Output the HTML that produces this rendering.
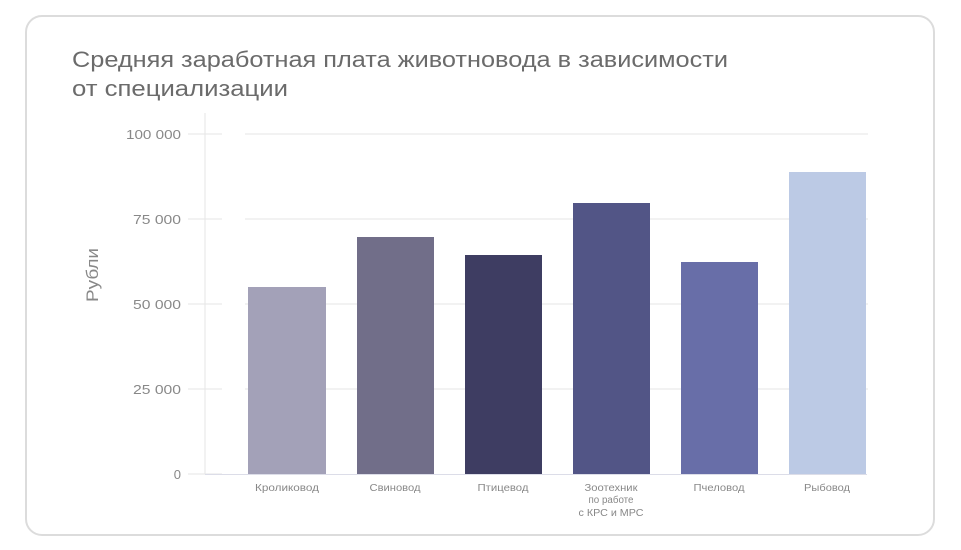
<!DOCTYPE html>
<html><head><meta charset="utf-8"><style>
body{margin:0;background:#fff;}
svg{display:block;font-family:"Liberation Sans","DejaVu Sans",sans-serif;}
</style></head><body>
<svg width="961" height="550" viewBox="0 0 961 550">
<rect x="26" y="16" width="908" height="519" rx="16" fill="#fff" stroke="#dcdcdc" stroke-width="2"/>
<text x="72" y="67" font-size="22" fill="#6b6b6b" textLength="656" lengthAdjust="spacingAndGlyphs">Средняя заработная плата животновода в зависимости</text>
<text x="72" y="96" font-size="22" fill="#6b6b6b" textLength="216" lengthAdjust="spacingAndGlyphs">от специализации</text>
<text transform="translate(98,275) rotate(-90)" text-anchor="middle" font-size="17" fill="#888" textLength="54" lengthAdjust="spacingAndGlyphs">Рубли</text>
<g stroke="#e6e6e6" stroke-width="1">
<line x1="205" y1="113" x2="205" y2="474"/>
<line x1="188" y1="134" x2="222" y2="134"/><line x1="245" y1="134" x2="868" y2="134"/>
<line x1="188" y1="219" x2="222" y2="219"/><line x1="245" y1="219" x2="868" y2="219"/>
<line x1="188" y1="304" x2="222" y2="304"/><line x1="245" y1="304" x2="868" y2="304"/>
<line x1="188" y1="389" x2="222" y2="389"/><line x1="245" y1="389" x2="868" y2="389"/>
<line x1="188" y1="474" x2="222" y2="474"/>
</g>
<g font-size="13" fill="#888" text-anchor="end">
<text x="181" y="139" textLength="55" lengthAdjust="spacingAndGlyphs">100 000</text>
<text x="181" y="224" textLength="48" lengthAdjust="spacingAndGlyphs">75 000</text>
<text x="181" y="309" textLength="48" lengthAdjust="spacingAndGlyphs">50 000</text>
<text x="181" y="394" textLength="48" lengthAdjust="spacingAndGlyphs">25 000</text>
<text x="181" y="479">0</text>
</g>
<rect x="248" y="287" width="78" height="187" fill="#a3a1b8"/>
<rect x="357" y="237" width="77" height="237" fill="#716e89"/>
<rect x="465" y="255" width="77" height="219" fill="#3e3d62"/>
<rect x="573" y="203" width="77" height="271" fill="#525586"/>
<rect x="681" y="262" width="77" height="212" fill="#686ea8"/>
<rect x="789" y="172" width="77" height="302" fill="#bccae5"/>
<line x1="205" y1="474.5" x2="867" y2="474.5" stroke="#dcdde8" stroke-width="1"/>
<g font-size="10" fill="#888" text-anchor="middle">
<text x="287" y="491" textLength="64" lengthAdjust="spacingAndGlyphs">Кроликовод</text>
<text x="395" y="491" textLength="51" lengthAdjust="spacingAndGlyphs">Свиновод</text>
<text x="503" y="491" textLength="51" lengthAdjust="spacingAndGlyphs">Птицевод</text>
<text x="611" y="491" textLength="53" lengthAdjust="spacingAndGlyphs">Зоотехник</text>
<text x="611" y="503" textLength="45" lengthAdjust="spacingAndGlyphs">по работе</text>
<text x="611" y="516" textLength="65" lengthAdjust="spacingAndGlyphs">с КРС и МРС</text>
<text x="719" y="491" textLength="51" lengthAdjust="spacingAndGlyphs">Пчеловод</text>
<text x="827" y="491" textLength="46" lengthAdjust="spacingAndGlyphs">Рыбовод</text>
</g>
</svg>
</body></html>
